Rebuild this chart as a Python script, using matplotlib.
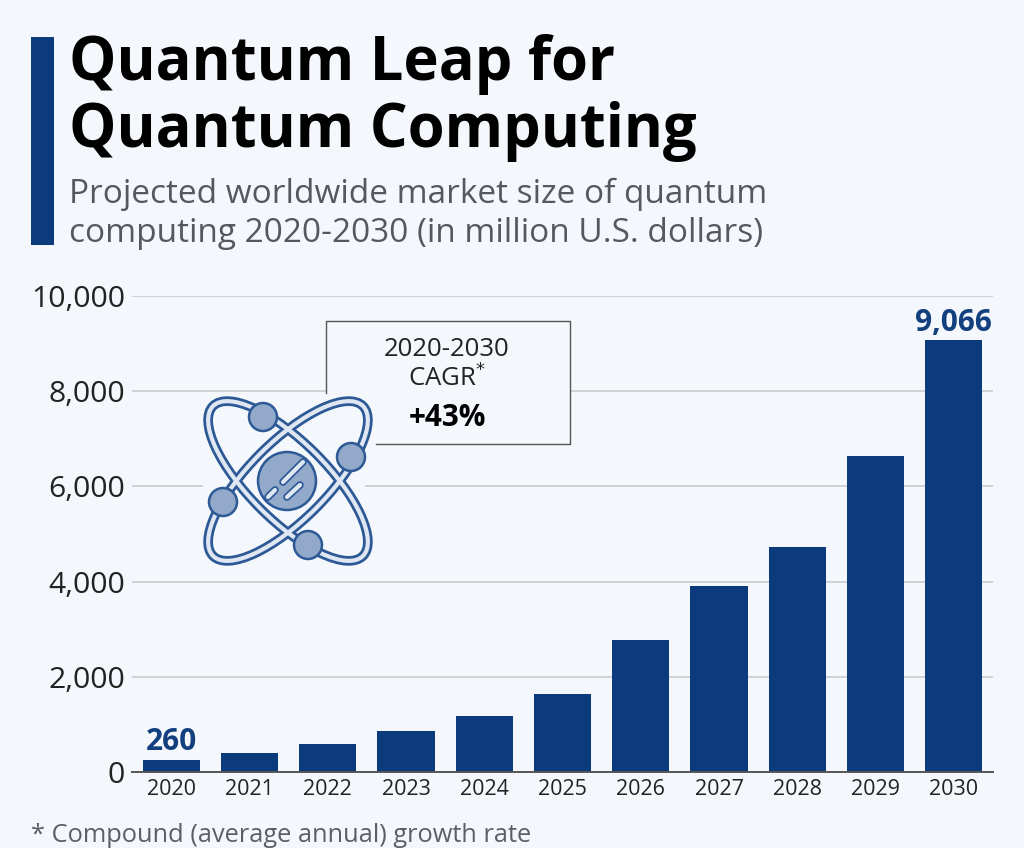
import numpy as np
from matplotlib import pyplot as plt
from matplotlib.patches import Circle, Ellipse, Rectangle

plt.rcParams['font.family'] = ['Open Sans', 'DejaVu Sans']

years = ['2020', '2021', '2022', '2023', '2024', '2025', '2026', '2027', '2028', '2029', '2030']
market_size = [260, 400, 590, 860, 1170, 1630, 2770, 3900, 4730, 6640, 9066]
y_ticks = [0, 2000, 4000, 6000, 8000, 10000]
labelled = {0: '260', 10: '9,066'}

title = 'Quantum Leap for\nQuantum Computing'
subtitle = 'Projected worldwide market size of quantum\ncomputing 2020-2030 (in million U.S. dollars)'
footnote = '* Compound (average annual) growth rate'

BG = '#f4f8fc'
BLUE = '#0b3b7c'
ICON_DARK = '#2d5a96'
ICON_FILL = '#93a9ca'

W, H = 1024, 848
fig = plt.figure(figsize=(W / 100, H / 100), dpi=100, facecolor=BG)

# main chart, placed in pixels
ax = fig.add_axes([132 / W, 1 - 772 / H, (993 - 132) / W, (772 - 296) / H], facecolor='none')
x = np.arange(len(years))
ax.bar(x, market_size, width=0.73, color=BLUE, zorder=3)
ax.set_xlim(-0.5, 10.5)
ax.set_ylim(0, 10000)
ax.set_yticks(y_ticks, [f'{v:,}' for v in y_ticks])
ax.set_xticks(x, years)
ax.grid(axis='y', color='#c6c8ca', linewidth=1.1, zorder=0)
ax.set_axisbelow(True)
ax.tick_params(axis='y', length=0, labelsize=21.7, labelcolor='#222222', pad=5)
ax.tick_params(axis='x', length=0, labelsize=15.5, labelcolor='#222222', pad=5)
for side in ['top', 'right', 'left']:
    ax.spines[side].set_visible(False)
ax.spines['bottom'].set_color('#555555')
ax.spines['bottom'].set_linewidth(1.4)
ax.spines['bottom'].set_zorder(4)
for i, label in labelled.items():
    ax.annotate(label, (x[i], market_size[i]), xytext=(0, 2), textcoords='offset points',
                ha='center', va='bottom', fontsize=21.5, fontweight='bold', color='#123f7e')

# overlay in pixel coordinates for header, callout and icon
over = fig.add_axes([0, 0, 1, 1], facecolor='none')
over.set_xlim(0, W)
over.set_ylim(H, 0)
over.axis('off')

over.add_patch(Rectangle((31, 37), 23, 208, color=BLUE, lw=0))
over.text(69, 98, title, fontsize=42.9, fontweight='bold', color='black', va='center', ha='left', linespacing=1.14)
over.text(69, 214, subtitle, fontsize=24, color='#55595e', va='center', ha='left', linespacing=1.22)
over.text(31, 835, footnote, fontsize=18.3, color='#5b6065', va='center', ha='left')

# callout box
over.add_patch(Rectangle((326, 321), 244, 123, facecolor=BG, edgecolor='none'))
over.plot([326, 326, 570, 570, 376], [393, 321, 321, 444, 444], color='#555555', lw=1)
over.text(447, 349, '2020-2030', fontsize=18.5, color='#222222', ha='center', va='center')
over.text(447, 378, 'CAGR$^{*}$', fontsize=18.5, color='#222222', ha='center', va='center')
over.text(447, 418, '+43%', fontsize=21.3, fontweight='bold', color='black', ha='center', va='center')

# atom icon
cx, cy = 288, 481
over.add_patch(Rectangle((203, 396), 162, 168, facecolor=BG, edgecolor='none', zorder=2))
for angle in [45, -45]:
    over.add_patch(Ellipse((cx, cy), 212, 78, angle=angle, fill=False, edgecolor=ICON_DARK, lw=7, zorder=3))
    over.add_patch(Ellipse((cx, cy), 212, 78, angle=angle, fill=False, edgecolor='#dfe7f2', lw=3, zorder=3.1))
for ex, ey in [(263, 417), (351, 457), (223, 502), (308, 545)]:
    over.add_patch(Circle((ex, ey), 14, facecolor=ICON_FILL, edgecolor=ICON_DARK, lw=1.8, zorder=4))
over.add_patch(Circle((287, 481), 29, facecolor=ICON_FILL, edgecolor=ICON_DARK, lw=1.8, zorder=4))
for sx, sy, ex, ey in [(283, 482, 303, 462), (287, 497, 300, 485), (268, 497, 275, 490)]:
    over.plot([sx, ex], [sy, ey], color=ICON_DARK, lw=5.5, solid_capstyle='round', zorder=5)
    over.plot([sx, ex], [sy, ey], color='#dfe7f2', lw=3, solid_capstyle='round', zorder=5.1)

fig.savefig('out.png', dpi=100, facecolor=BG)
